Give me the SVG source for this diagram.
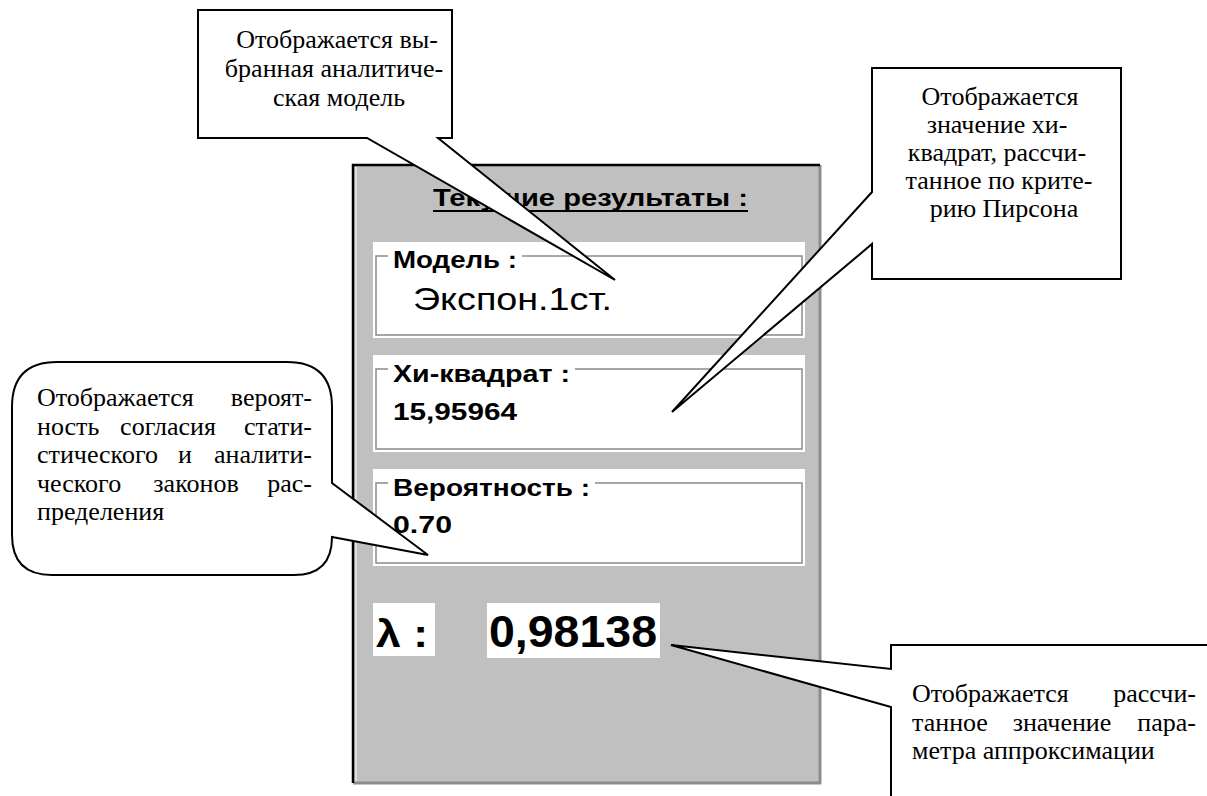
<svg xmlns="http://www.w3.org/2000/svg" width="1207" height="796" viewBox="0 0 1207 796">
  <style>
    .note { font-family: "Liberation Serif", "Times New Roman", serif; font-size: 26px; fill: #000; }
    .ui { font-family: "Liberation Sans", Arial, sans-serif; font-weight: bold; font-size: 24px; fill: #000; }
    .big { font-size: 44px; }
    .lam { font-size: 38px; }
    .callout { fill: #fff; stroke: #000; stroke-width: 2; stroke-linejoin: miter; }
    .frame { fill: none; stroke: #8a8a8a; stroke-width: 1.5; }
    .field { fill: #fff; }
  </style>
  <rect width="1207" height="796" fill="#fff"/>

  <!-- Results window -->
  <g id="panel">
    <rect x="353" y="165" width="467" height="618" fill="#c0c0c0"/>
    <line x1="820" y1="165" x2="820" y2="784" stroke="#8c8c8c" stroke-width="3"/>
    <line x1="353" y1="783" x2="821" y2="783" stroke="#8c8c8c" stroke-width="3"/>
    <line x1="356" y1="167" x2="356" y2="781" stroke="#fff" stroke-width="1"/>
    <line x1="353" y1="164" x2="353" y2="783" stroke="#000" stroke-width="2.5"/>
    <line x1="352" y1="165" x2="820" y2="165" stroke="#000" stroke-width="2.5"/>

    <text class="ui" x="433" y="206" textLength="315" lengthAdjust="spacingAndGlyphs">Текущие результаты :</text>
    <line x1="433" y1="211" x2="748" y2="211" stroke="#000" stroke-width="2"/>

    <!-- Model field -->
    <g id="field-model">
      <rect class="field" x="373" y="242" width="432" height="96"/>
      <rect class="frame" x="376" y="256" width="426" height="79"/>
      <rect class="field" x="388" y="250" width="134" height="12"/>
      <text class="ui" x="393" y="268" textLength="124" lengthAdjust="spacingAndGlyphs">Модель :</text>
      <text x="413" y="310" font-family="Liberation Sans, Arial, sans-serif" font-size="31" textLength="199" lengthAdjust="spacingAndGlyphs">Экспон.1ст.</text>
    </g>

    <!-- Chi-square field -->
    <g id="field-chi">
      <rect class="field" x="373" y="355" width="432" height="97"/>
      <rect class="frame" x="376" y="369" width="426" height="80"/>
      <rect class="field" x="388" y="363" width="187" height="12"/>
      <text class="ui" x="393" y="382" textLength="177" lengthAdjust="spacingAndGlyphs">Хи-квадрат :</text>
      <text class="ui" x="393" y="420" textLength="124" lengthAdjust="spacingAndGlyphs">15,95964</text>
    </g>

    <!-- Probability field -->
    <g id="field-prob">
      <rect class="field" x="373" y="469" width="432" height="97"/>
      <rect class="frame" x="376" y="483" width="426" height="80"/>
      <rect class="field" x="388" y="477" width="207" height="12"/>
      <text class="ui" x="393" y="496" textLength="197" lengthAdjust="spacingAndGlyphs">Вероятность :</text>
      <text class="ui" x="393" y="533" textLength="59" lengthAdjust="spacingAndGlyphs">0.70</text>
    </g>

    <!-- Lambda value -->
    <g id="field-lambda">
      <rect class="field" x="373" y="603" width="62" height="53"/>
      <text class="ui lam" x="376" y="647" textLength="52" lengthAdjust="spacingAndGlyphs">λ :</text>
      <rect class="field" x="487" y="603" width="173" height="55"/>
      <text class="ui big" x="489" y="647" textLength="168" lengthAdjust="spacingAndGlyphs">0,98138</text>
    </g>
  </g>

  <!-- Callout outlines (pointer tails) -->
  <g id="connectors">
    <path id="tail-model" class="callout" d="M198,10 H452 V138 H438 L615,280 L367,138 H198 Z"/>
    <path id="tail-chi" class="callout" d="M872,68 H1121 V279 H872 V244 L672,412 L872,192 Z"/>
    <path id="tail-prob" class="callout" d="M57,362 H287 Q332,362 332,407 V483 L428,555 L332,537 Q332,575 294,575 H52 Q12,575 12,535 V407 Q12,362 57,362 Z"/>
    <path id="tail-lambda" class="callout" d="M891,800 V707 L671,645 L891,669 V645 H1210 V800 Z"/>
  </g>

  <g id="note-model">
    <text class="note" text-anchor="middle" x="337" y="48">Отображается вы-</text>
    <text class="note" text-anchor="middle" x="334" y="77">бранная аналитиче-</text>
    <text class="note" text-anchor="middle" x="339" y="106">ская модель</text>
  </g>

  <g id="note-chi">
    <text class="note" text-anchor="middle" x="1000" y="105">Отображается</text>
    <text class="note" text-anchor="middle" x="997" y="133">значение хи-</text>
    <text class="note" text-anchor="middle" x="997" y="161">квадрат, рассчи-</text>
    <text class="note" text-anchor="middle" x="999" y="189">танное по крите-</text>
    <text class="note" text-anchor="middle" x="1004" y="217">рию Пирсона</text>
  </g>

  <g id="note-prob">
    <text class="note" x="37" y="406">Отображается</text>
    <text class="note" x="312" y="406" text-anchor="end">вероят-</text>
    <text class="note" x="37" y="435">ность</text>
    <text class="note" x="168" y="435" text-anchor="middle">согласия</text>
    <text class="note" x="312" y="435" text-anchor="end">стати-</text>
    <text class="note" x="37" y="463">стического</text>
    <text class="note" x="185" y="463" text-anchor="middle">и</text>
    <text class="note" x="312" y="463" text-anchor="end">аналити-</text>
    <text class="note" x="37" y="492">ческого</text>
    <text class="note" x="196" y="492" text-anchor="middle">законов</text>
    <text class="note" x="312" y="492" text-anchor="end">рас-</text>
    <text class="note" x="37" y="520">пределения</text>
  </g>

  <g id="note-lambda">
    <text class="note" x="912" y="702">Отображается</text>
    <text class="note" x="1196" y="702" text-anchor="end">рассчи-</text>
    <text class="note" x="912" y="731">танное</text>
    <text class="note" x="1062" y="731" text-anchor="middle">значение</text>
    <text class="note" x="1196" y="731" text-anchor="end">пара-</text>
    <text class="note" x="912" y="759">метра аппроксимации</text>
  </g>
</svg>
